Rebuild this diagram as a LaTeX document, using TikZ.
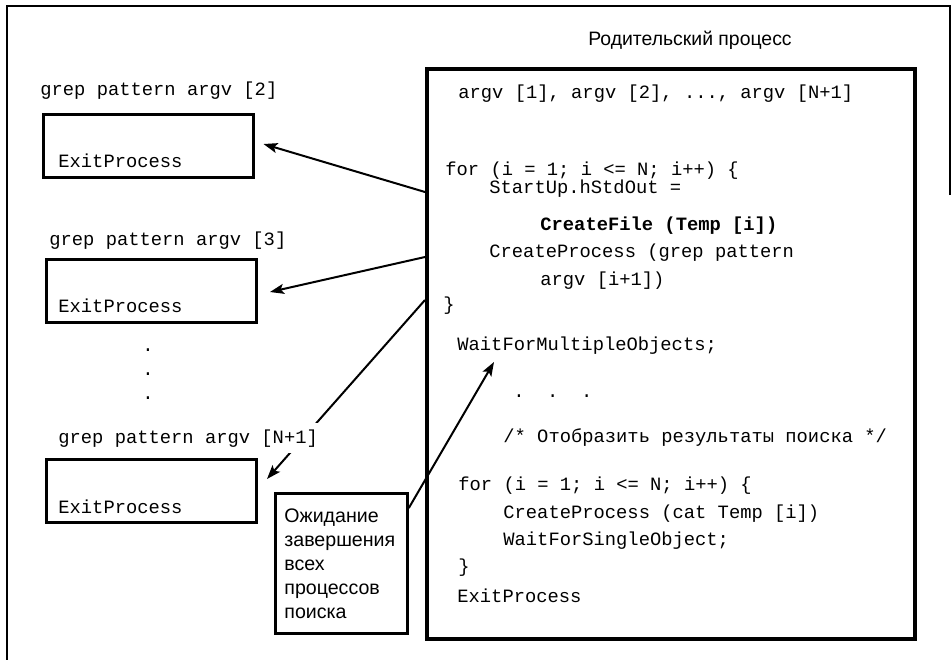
\documentclass[tikz,border=0pt]{standalone}
\usepackage{fontspec}
\setmainfont{Liberation Sans}
\setsansfont{Liberation Sans}
\setmonofont{Liberation Mono}
\usetikzlibrary{positioning, arrows.meta}
\pgfdeclarelayer{back}
\pgfsetlayers{back,main}
\tikzset{
  proc/.style={draw, line width=1.5pt, minimum width=105pt, minimum height=31.5pt, inner sep=0pt},
  code/.style={font=\ttfamily\fontsize{9.4}{11}\selectfont, anchor=base west, inner sep=0pt},
  ptr/.style={-{Stealth[length=7pt, width=5pt, inset=1.5pt]}, line width=1pt},
}

\begin{document}
\begin{tikzpicture}[x=0.5pt, y=-0.5pt]
            \useasboundingbox (0,0) rectangle (952,660);
            \draw[line width=0.8pt] (950,195) -- (950,6) -- (7,6) -- (7,660);

            \node [draw, line width=2pt, minimum width=244pt, minimum height=285pt, inner sep=0pt, anchor=north west] (parent) at (425,67) {};
            \node [font=\sffamily\fontsize{9.7}{11}\selectfont, anchor=base] (title) at (690,45) {Родительский процесс};

            \node [proc] (c1) at (148,146) {};
            \node [proc] (c2) at (151.5,290.5) {};
            \node [proc] (c3) at (151.5,491) {};
            \node [code] (g1) at (40,95) {grep pattern argv [2]};
            \node [code] (g2) at (49,245) {grep pattern argv [3]};
            \node [code, fill=white, inner ysep=3pt] (g3) at (58,443) {grep pattern argv [N+1]};
            \node [code] (e1) at (58,167) {ExitProcess};
            \node [code] (e2) at (58,312) {ExitProcess};
            \node [code] (e3) at (58,513) {ExitProcess};
            \node [code, anchor=base] (v1) at (148,351) {.};
            \node [code, anchor=base] (v2) at (148,375) {.};
            \node [code, anchor=base] (v3) at (148,399) {.};

            \node [draw, line width=1.4pt, anchor=north west, minimum width=66pt, minimum height=70pt,
                   text width=57pt, inner xsep=4.5pt, align=left,
                   font=\sffamily\fontsize{9.8}{12}\selectfont] (wait) at (274,492)
                  {Ожидание\\ завершения\\ всех\\ процессов\\ поиска};

            \node [code] (l1) at (458,98) {argv [1], argv [2], ..., argv [N+1]};
            \node [code] (l2) at (445,175) {for (i = 1; i <= N; i++) \{};
            \node [code] (l3) at (489,193) {StartUp.hStdOut =};
            \node [code, font=\ttfamily\bfseries\fontsize{9.4}{11}\selectfont] (l4) at (540,230) {CreateFile (Temp [i])};
            \node [code] (l5) at (489,257) {CreateProcess (grep pattern};
            \node [code] (l6) at (540,285) {argv [i+1])};
            \node [code] (l7) at (443,310) {\}};
            \node [code] (l8) at (457,350) {WaitForMultipleObjects;};
            \node [code] (l9) at (513,397) {.~~.~~.};
            \node [code] (l10) at (503,442) {/* Отобразить результаты поиска */};
            \node [code] (l11) at (458,490) {for (i = 1; i <= N; i++) \{};
            \node [code] (l12) at (503,518) {CreateProcess (cat Temp [i])};
            \node [code] (l13) at (503,545) {WaitForSingleObject;};
            \node [code] (l14) at (458,572) {\}};
            \node [code] (l15) at (457,602) {ExitProcess};

            \begin{pgfonlayer}{back}
            \draw[ptr] ([yshift=-62.5pt]parent.north west) -- ([shift={(4.5pt,1pt)}]c1.east);
            \draw[ptr] ([yshift=-95pt]parent.north west) -- ([shift={(6pt,-0.75pt)}]c2.east);
            \draw[ptr] ([yshift=-116.5pt]parent.north west) -- ([shift={(4.5pt,6pt)}]c3.east);
            \draw[ptr] ([yshift=-8pt]wait.north east) -- ([shift={(18.5pt,-6pt)}]l8.base west);
            \end{pgfonlayer}
        \end{tikzpicture}
\end{document}
